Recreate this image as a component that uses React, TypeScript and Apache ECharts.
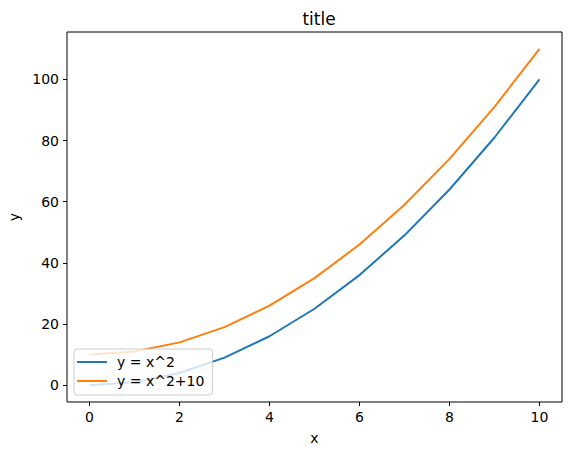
import React, { useEffect, useRef } from "react";
import * as echarts from "echarts";

const xValues = [0, 1, 2, 3, 4, 5, 6, 7, 8, 9, 10];
const ySquare = [0, 1, 4, 9, 16, 25, 36, 49, 64, 81, 100];
const ySquarePlus10 = [10, 11, 14, 19, 26, 35, 46, 59, 74, 91, 110];
const xTicks = [0, 2, 4, 6, 8, 10];
const yTicks = [0, 20, 40, 60, 80, 100];
const seriesNames = ["y = x^2", "y = x^2+10"];
const colors = ["#1f77b4", "#ff7f0e"];

const FONT = "DejaVu Sans";

export default function App() {
  const ref = useRef<HTMLDivElement>(null);
  useEffect(() => {
    if (!ref.current) return;
    const chart = echarts.init(ref.current, undefined, { renderer: "svg" });
    const axisCommon = {
      type: "value" as const,
      axisLine: { show: false, onZero: false },
      splitLine: { show: false },
      axisTick: { show: true, inside: false, length: 4, lineStyle: { color: "#000", width: 1 } },
      axisLabel: { color: "#000", fontFamily: FONT, fontSize: 14 },
      nameTextStyle: { color: "#000", fontFamily: FONT, fontSize: 14 },
    };
    chart.setOption({
      animation: false,
      backgroundColor: "#fff",
      title: {
        text: "title",
        left: 314,
        top: 5,
        textAlign: "center",
        textStyle: { fontFamily: FONT, fontSize: 17, fontWeight: "normal", color: "#000" },
      },
      grid: {
        left: 67,
        right: 9,
        top: 32,
        bottom: 53,
        containLabel: false,
        outerBoundsMode: "none",
        show: true,
        borderColor: "#000",
        borderWidth: 1,
        backgroundColor: "transparent",
      },
      xAxis: {
        ...axisCommon,
        min: -0.5,
        max: 10.5,
        name: "x",
        nameLocation: "middle",
        nameGap: 29,
        axisTick: { ...axisCommon.axisTick, customValues: xTicks },
        axisLabel: { ...axisCommon.axisLabel, customValues: xTicks, margin: 8 },
      },
      yAxis: {
        ...axisCommon,
        min: -5.5,
        max: 115.5,
        name: "y",
        nameLocation: "middle",
        nameGap: 45,
        nameRotate: 90,
        axisTick: { ...axisCommon.axisTick, customValues: yTicks },
        axisLabel: { ...axisCommon.axisLabel, customValues: yTicks, margin: 8 },
      },
      legend: {
        orient: "vertical",
        left: 74,
        top: 349,
        padding: [6, 8, 7, 3],
        itemWidth: 30,
        itemHeight: 2,
        itemGap: 5,
        icon: "rect",
        backgroundColor: "rgba(255,255,255,0.8)",
        borderColor: "#ccc",
        borderWidth: 1,
        borderRadius: 3,
        textStyle: { fontFamily: FONT, fontSize: 14, color: "#000", padding: [0, 0, 0, 5] },
        data: seriesNames,
      },
      series: seriesNames.map((name, s) => ({
        name,
        type: "line",
        data: xValues.map((x, i) => [x, (s === 0 ? ySquare : ySquarePlus10)[i]]),
        symbol: "none",
        lineStyle: { color: colors[s], width: 2 },
        itemStyle: { color: colors[s] },
      })),
    });
    return () => chart.dispose();
  }, []);
  return <div ref={ref} style={{ width: 571, height: 455, position: "absolute", left: 0, top: 0 }} />;
}
